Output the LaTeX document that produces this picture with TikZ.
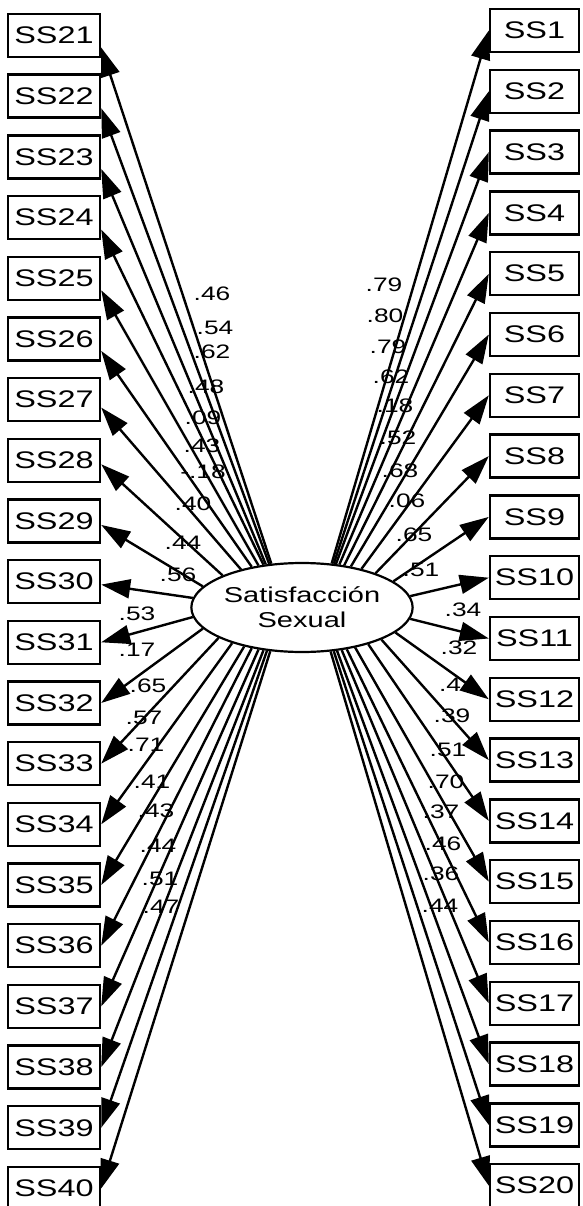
\documentclass[tikz,border=0pt]{standalone}
\usepackage{fontspec}
\setmainfont[FakeStretch=1.35]{Liberation Sans}
\usetikzlibrary{arrows.meta,shapes.geometric}

\begin{document}
\begin{tikzpicture}[x=1pt,y=-1pt,
  item/.style={draw, line width=2.4pt, minimum width=92pt, minimum height=43pt,
    inner sep=0pt, font=\fontsize{24}{28}\selectfont},
  latent/.style={ellipse, draw, line width=2.2pt, minimum width=184pt,
    minimum height=89pt, inner sep=0pt, align=center,
    font=\fontsize{21.5}{25}\selectfont},
  coef/.style={inner sep=0pt, font=\fontsize{19.5}{22}\selectfont},
  load/.style={line width=2.4pt, -{Triangle[length=29pt,width=19pt]}}]

\useasboundingbox (0,0) rectangle (582,1206);

% latent factor
\node[latent] (F) at (302,607.5) {Satisfacción\\Sexual};

% indicators, right column
\foreach \i in {1,...,20}
  \node[item, minimum width=89pt] (ss\i) at (534.5,{30.5+60.8*(\i-1)}) {SS\i};
% indicators, left column
\foreach \i in {21,...,40}
  \node[item] (ss\i) at (54,{35.5+60.68*(\i-21)}) {SS\i};

% standardized loadings
\foreach \n/\x/\y/\t in {
  1/384/285/.79, 2/385/316/.80, 3/388/347/.79, 4/391/377/.62, 5/395/406/.18,
  6/398/438/.52, 7/400/471/.68, 8/407/501/.06, 9/414/535/.65, 10/421/570/.51,
  11/463/610/.34, 12/459/648/.32, 13/450/685/.4, 14/452/716/.39, 15/448/750/.51,
  16/446/782/.70, 17/441/812/.37, 18/443/844/.46, 19/441/874/.36, 20/440/906/.44,
  21/212/294/.46, 22/215/328/.54, 23/212/352/.62, 24/206/387/.48, 25/203/418/.09,
  26/202/446/.43, 27/203/472/-.18, 28/193/504/.40, 29/183/543/.44, 30/178/575/.56,
  31/137/614/.53, 32/137/650/.17, 33/148/686/.65, 34/144/718/.57, 35/146/745/.71,
  36/152/782/.41, 37/156/811/.43, 38/158/846/.44, 39/160/879/.51, 40/161/907/.47}
  \node[coef] (c\n) at (\x,\y) {\t};

% paths from the factor to the right column
\foreach \i/\a in {1/56, 2/54, 3/52, 4/49, 5/45, 6/40, 7/33, 8/25, 9/16, 10/6,
    11/-6, 12/-15, 13/-22, 14/-29, 15/-37, 16/-43, 17/-47, 18/-51, 19/-54, 20/-57}
  \draw[load] (F.\a) -- (ss\i.west);

% paths from the factor to the left column
\foreach \i/\a/\d in {21/125/-12pt, 22/127/-12pt, 23/130/-12pt, 24/132/-12pt,
    25/136/-12pt, 26/141/-12pt, 27/148/-8pt, 28/158/-4pt, 29/168/-4pt, 30/175/-3pt,
    31/185/0pt, 32/192/0pt, 33/200/0pt, 34/207/0pt, 35/214/0pt, 36/219/0pt,
    37/224/0pt, 38/228/0pt, 39/231/0pt, 40/234/0pt}
  \draw[load] (F.\a) -- ([yshift=\d]ss\i.east);

\end{tikzpicture}
\end{document}
